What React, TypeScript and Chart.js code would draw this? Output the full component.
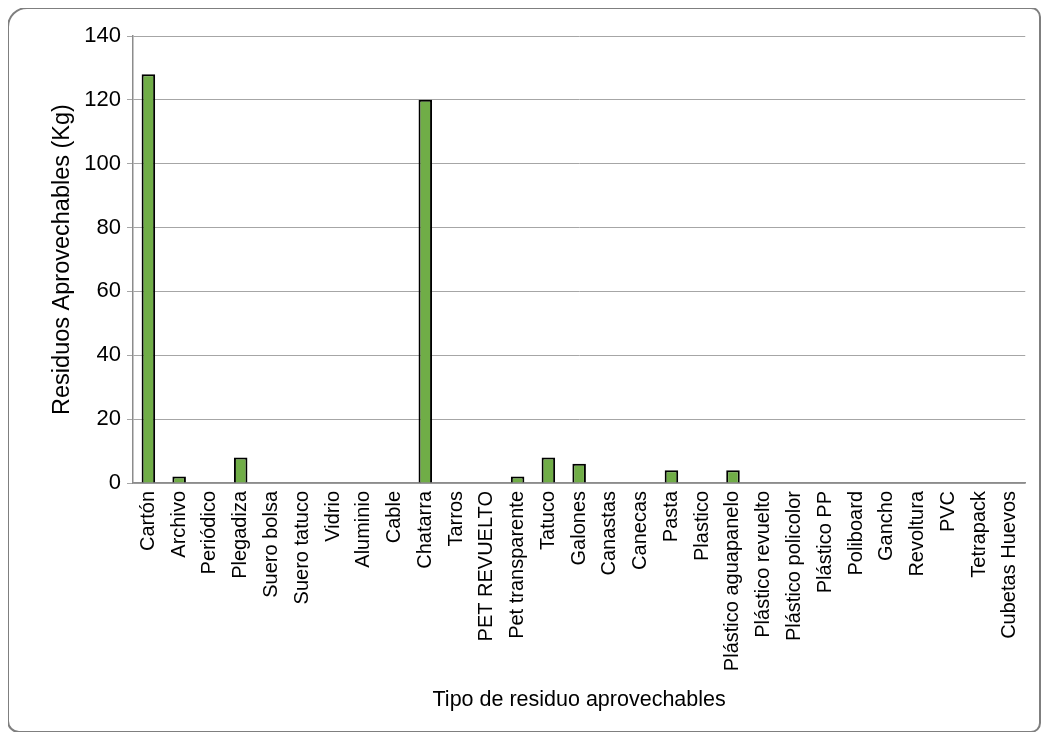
import React, { useEffect, useRef } from "react";
import { Chart, registerables } from "chart.js";

Chart.register(...registerables);

const categories = [
  "Cartón", "Archivo", "Periódico", "Plegadiza", "Suero bolsa", "Suero tatuco", "Vidrio",
  "Aluminio", "Cable", "Chatarra", "Tarros", "PET REVUELTO", "Pet transparente", "Tatuco",
  "Galones", "Canastas", "Canecas", "Pasta", "Plastico", "Plástico aguapanelo",
  "Plástico revuelto", "Plástico policolor", "Plástico PP", "Poliboard", "Gancho",
  "Revoltura", "PVC", "Tetrapack", "Cubetas Huevos",
];

const values = [128, 2, 0, 8, 0, 0, 0, 0, 0, 120, 0, 0, 2, 8, 6, 0, 0, 4, 0, 4, 0, 0, 0, 0, 0, 0, 0, 0, 0];

const yTitle = "Residuos Aprovechables (Kg)";
const xTitle = "Tipo de residuo aprovechables";

const FONT = "'Liberation Sans Narrow', 'Arial Narrow', 'Liberation Sans', Arial, sans-serif";

export default function App() {
  const ref = useRef<HTMLCanvasElement | null>(null);
  useEffect(() => {
    if (!ref.current) return;
    const chart = new Chart(ref.current, {
      type: "bar",
      data: {
        labels: categories,
        datasets: [
          {
            data: values,
            backgroundColor: "#70ad47",
            borderColor: "#000000",
            borderWidth: 2,
            barPercentage: 0.44,
            categoryPercentage: 1,
          },
        ],
      },
      options: {
        animation: false,
        responsive: false,
        maintainAspectRatio: false,
        layout: { padding: { top: 28, left: 0, right: 6, bottom: 0 } },
        plugins: { legend: { display: false }, tooltip: { enabled: false } },
        scales: {
          x: {
            grid: { display: false, drawTicks: false },
            border: { display: true, color: "#8c8c8c", width: 1.5 },
            ticks: {
              color: "#000",
              font: { family: FONT, size: 20 },
              maxRotation: 90,
              minRotation: 90,
              autoSkip: false,
              padding: 8,
            },
            title: {
              display: true,
              text: xTitle,
              color: "#000",
              font: { family: FONT, size: 21.5 },
              padding: { top: 0, bottom: 19 },
            },
            afterFit: (s: any) => {
              s.height = 249;
            },
          },
          y: {
            min: 0,
            max: 140,
            ticks: {
              stepSize: 20,
              color: "#000",
              font: { family: FONT, size: 22 },
              padding: 6,
            },
            grid: { color: "#a6a6a6", lineWidth: 1, tickLength: 6 },
            border: { display: true, color: "#8c8c8c", width: 1.5 },
            title: {
              display: true,
              text: yTitle,
              color: "#000",
              font: { family: FONT, size: 23.5 },
              padding: { top: 40, bottom: 0 },
            },
            afterFit: (s: any) => {
              s.width = 125;
            },
          },
        },
      },
    });
    return () => chart.destroy();
  }, []);

  return (
    <div style={{ position: "relative", width: 1034, height: 724 }}>
      <canvas ref={ref} width={1034} height={724} style={{ position: "absolute", left: 0, top: 0 }} />
      <div
        style={{
          position: "absolute",
          left: -1,
          top: -1,
          width: 1030,
          height: 722,
          border: "2px solid #7f7f7f",
          borderRadius: "20px 10px 10px 12px",
          pointerEvents: "none",
          boxSizing: "content-box",
        }}
      />
    </div>
  );
}
